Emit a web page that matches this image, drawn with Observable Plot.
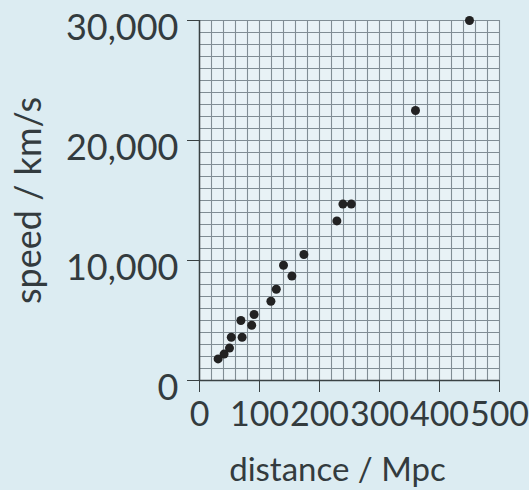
<!DOCTYPE html>
<html><head><meta charset="utf-8">
<script src="https://cdn.jsdelivr.net/npm/d3@7"></script>
<script src="https://cdn.jsdelivr.net/npm/@observablehq/plot@0.6"></script>
<style>
html,body{margin:0;padding:0;background:#dcecf2;}
</style></head><body><div id="chart"></div>
<script>
const distance = [31, 41, 50, 53, 71, 69, 87, 91, 119, 128, 140, 154, 174, 229, 239, 253, 360, 450];
const speed = [1800, 2200, 2700, 3600, 3600, 5000, 4600, 5500, 6600, 7600, 9600, 8700, 10500, 13300, 14700, 14700, 22500, 30000];
const xTicks = [0, 100, 200, 300, 400, 500];
const yTicks = [0, 10000, 20000, 30000];
const xGrid = d3.range(0, 501, 20);
const yGrid = d3.range(0, 30001, 1000);
const xLabel = "distance / Mpc";
const yLabel = "speed / km/s";
const data = distance.map((d, i) => ({distance: d, speed: speed[i]}));
const ink = "#333b3e";
const chart = Plot.plot({
  width: 529, height: 490, marginLeft: 199, marginRight: 30, marginTop: 20, marginBottom: 110,
  style: {background: "#dcecf2", fontFamily: "Lato", color: ink, overflow: "visible"},
  x: {domain: [0, 500]},
  y: {domain: [0, 30000]},
  marks: [
    Plot.frame({fill: "#e8f2f6", stroke: null}),
    Plot.ruleX(xGrid, {stroke: "#808d94", strokeWidth: 1.1}),
    Plot.ruleY(yGrid, {stroke: "#808d94", strokeWidth: 1.1}),
    Plot.ruleX([0], {stroke: "#3a4244", strokeWidth: 1.5}),
    Plot.ruleY([0], {stroke: "#3a4244", strokeWidth: 1.5}),
    Plot.axisX(xTicks, {tickSize: 12, tickPadding: 9, fontSize: 34, label: null, stroke: "#3a4244", fill: ink}),
    Plot.axisY(yTicks, {tickSize: 12, fill: null, label: null, stroke: "#3a4244"}),
    Plot.axisY(yTicks, {tickSize: 0, tickPadding: 21, dy: 8, fontSize: 36, label: null, fill: ink, tickFormat: d3.format(",")}),
    Plot.text([xLabel], {frameAnchor: "bottom", dy: 100, dx: -12, fontSize: 33, fill: ink}),
    Plot.text([yLabel], {frameAnchor: "left", dx: -170, rotate: -90, textAnchor: "middle", fontSize: 36, fill: ink}),
    Plot.dot(data, {x: "distance", y: "speed", r: 4.5, fill: "#222"})
  ]
});
document.getElementById("chart").appendChild(chart);
</script></body></html>
